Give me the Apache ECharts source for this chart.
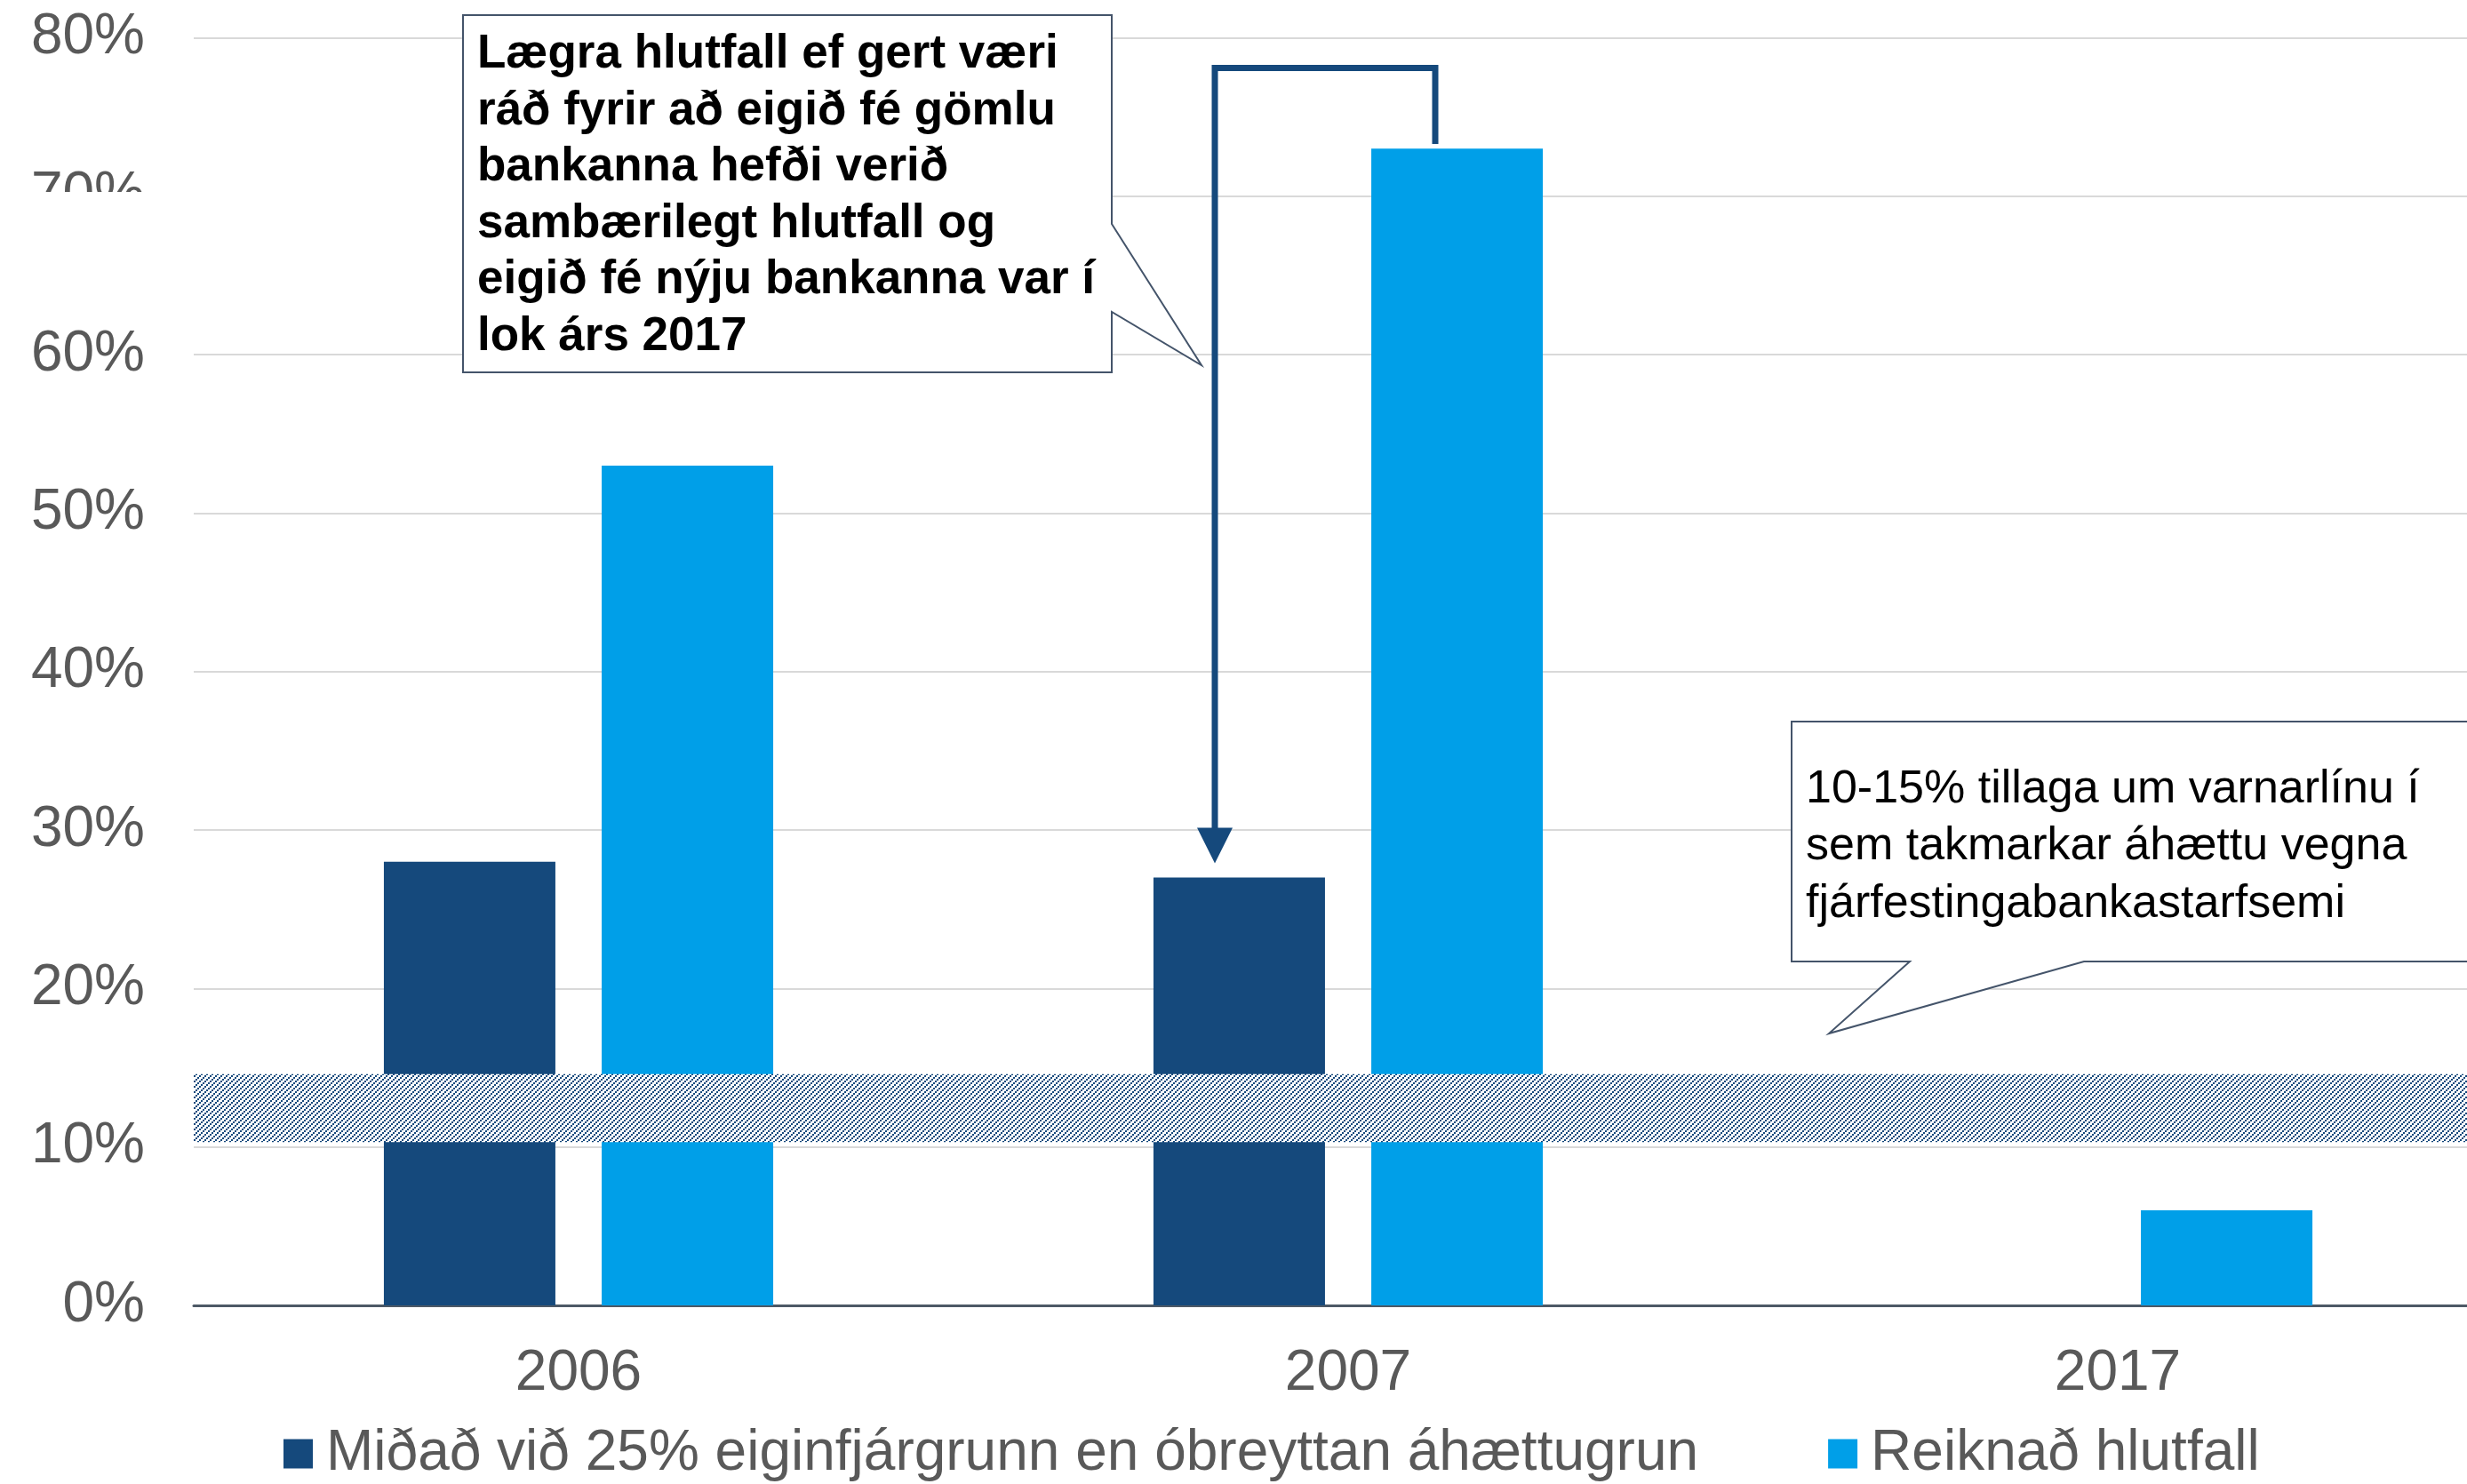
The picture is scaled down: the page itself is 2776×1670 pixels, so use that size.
<!DOCTYPE html>
<html>
<head>
<meta charset="utf-8">
<script src="https://cdn.jsdelivr.net/npm/echarts@6/dist/echarts.min.js"></script>
<style>
  html, body { margin: 0; padding: 0; background: #fff; }
  #main { width: 2776px; height: 1670px; }
</style>
</head>
<body>
<div id="main"></div>
<script>
// gögn
const categories = ['2006', '2007', '2017']
const seriesNames = ['Miðað við 25% eiginfjárgrunn en óbreyttan áhættugrun', 'Reiknað hlutfall']
const adjustedRatio = [28, 27, 0]
const reportedRatio = [53, 73, 6]
const bandRange = [10.3, 14.6]
const yMin = 0
const yMax = 80
const yStep = 10
const arrowLevels = [73.3, 78.1, 27.9]
const calloutLeft = ['Lægra hlutfall ef gert væri', 'ráð fyrir að eigið fé gömlu', 'bankanna hefði verið', 'sambærilegt hlutfall og', 'eigið fé nýju bankanna var í', 'lok árs 2017']
const calloutRight = ['10-15% tillaga um varnarlínu í', 'sem takmarkar áhættu vegna', 'fjárfestingabankastarfsemi']

const FONT = '"Liberation Sans", Arial, sans-serif'
const DARK = '#15497c'
const LIGHT = '#009fe8'
const GREY = '#595959'

// skástrikað mynstur fyrir bilið (/ línur úr 2x2 punktum)
const hatch = document.createElement('canvas')
hatch.width = 6
hatch.height = 6
const hc = hatch.getContext('2d')
const img = hc.createImageData(6, 6)
for (let y = 0; y < 6; y++) {
  for (let x = 0; x < 6; x++) {
    const i = (y * 6 + x) * 4
    const on = ((Math.floor(x / 2) + Math.floor(y / 2)) % 3) === 0
    img.data[i] = on ? 0x15 : 255
    img.data[i + 1] = on ? 0x49 : 255
    img.data[i + 2] = on ? 0x7c : 255
    img.data[i + 3] = 255
  }
}
hc.putImageData(img, 0, 0)

const myChart = echarts.init(document.getElementById('main'))

myChart.setOption({
  animation: false,
  textStyle: { fontFamily: FONT },
  grid: {
    left: 218,
    top: 42.5,
    width: 2598,
    bottom: 201,
    containLabel: false,
    outerBoundsMode: 'none'
  },
  legend: {
    left: 314,
    top: 1599,
    itemWidth: 33,
    itemHeight: 33,
    itemGap: 146,
    icon: 'rect',
    textStyle: { color: GREY, fontSize: 64, fontFamily: FONT, padding: [0, 0, 0, 10] },
    data: seriesNames
  },
  xAxis: {
    type: 'category',
    data: categories,
    axisTick: { show: false },
    axisLine: { show: true, lineStyle: { color: '#4d5966', width: 3 } },
    axisLabel: { color: GREY, fontSize: 64, margin: 45, fontFamily: FONT }
  },
  yAxis: {
    type: 'value',
    min: yMin,
    max: yMax,
    interval: yStep,
    axisLine: { show: false },
    axisTick: { show: false },
    splitLine: { show: true, lineStyle: { color: '#d9d9d9', width: 2 } },
    axisLabel: { formatter: '{value}%', color: GREY, fontSize: 64, margin: 55, fontFamily: FONT }
  },
  series: [
    {
      name: seriesNames[0],
      type: 'bar',
      barWidth: 193,
      barGap: '27%',
      itemStyle: { color: DARK },
      data: adjustedRatio
    },
    {
      name: seriesNames[1],
      type: 'bar',
      barWidth: 193,
      barGap: '27%',
      itemStyle: { color: LIGHT },
      data: reportedRatio,
      markArea: {
        silent: true,
        z: 10,
        label: { show: false },
        itemStyle: { color: { image: hatch, repeat: 'repeat' }, borderWidth: 0 },
        data: [[{ yAxis: bandRange[1] }, { yAxis: bandRange[0] }]]
      }
    }
  ]
})

// ör og skýringar
const p = (cat, v) => myChart.convertToPixel({ xAxisIndex: 0, yAxisIndex: 0 }, [cat, v])
const cx = p(1, 0)[0]
const rightX = cx + 123 - 25
const leftX = cx - 123 - 27
const yStart = p(1, arrowLevels[0])[1]
const yTop = p(1, arrowLevels[1])[1]
const yTip = p(1, arrowLevels[2])[1]

myChart.setOption({
  graphic: [
    {
      type: 'rect',
      z: 100,
      shape: { x: 0, y: 216, width: 520, height: 150 },
      style: { fill: '#fff' },
      silent: true
    },
    {
      type: 'polyline',
      z: 100,
      shape: { points: [[rightX, yStart], [rightX, yTop], [leftX, yTop], [leftX, yTip - 38]] },
      style: { stroke: DARK, lineWidth: 7, fill: null }
    },
    {
      type: 'polygon',
      z: 100,
      shape: { points: [[leftX - 20, yTip - 40], [leftX + 20, yTip - 40], [leftX, yTip]] },
      style: { fill: DARK }
    },
    {
      type: 'polygon',
      z: 100,
      shape: { points: [[521, 17], [1251, 17], [1251, 252], [1352, 411], [1251, 351], [1251, 419], [521, 419]] },
      style: { fill: '#fff', stroke: '#44546a', lineWidth: 2 }
    },
    {
      type: 'text',
      z: 101,
      x: 537,
      y: 30,
      style: { text: calloutLeft.join('\n'), fill: '#000', fontSize: 53, fontWeight: 'bold', fontFamily: FONT, lineHeight: 63.5 }
    },
    {
      type: 'polygon',
      z: 100,
      shape: { points: [[2016, 812], [2800, 812], [2800, 1082], [2345, 1082], [2058, 1163], [2149, 1082], [2016, 1082]] },
      style: { fill: '#fff', stroke: '#44546a', lineWidth: 2 }
    },
    {
      type: 'text',
      z: 101,
      x: 2032,
      y: 856,
      style: { text: calloutRight.join('\n'), fill: '#000', fontSize: 52, fontFamily: FONT, lineHeight: 64.5 }
    }
  ]
})
</script>
</body>
</html>
